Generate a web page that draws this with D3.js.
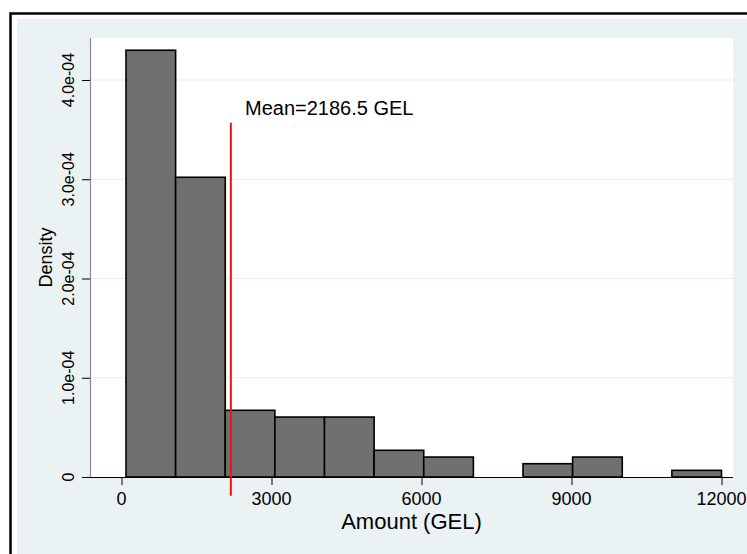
<!DOCTYPE html>
<html>
<head>
<meta charset="utf-8">
<script src="https://cdn.jsdelivr.net/npm/d3@7"></script>
<style>
  html, body { margin: 0; padding: 0; background: #ffffff; }
  svg { display: block; }
  text { font-family: "Liberation Sans", Arial, Helvetica, sans-serif; fill: #000; }
</style>
</head>
<body>
<svg id="chart" width="747" height="554"></svg>
<script>
// Histogram of amounts (GEL): 12 equal-width bins, heights as density
const binStart = 90;
const binWidth = 992.5;
const densities = [4.30e-4, 3.02e-4, 0.672e-4, 0.604e-4, 0.604e-4, 0.269e-4,
                   0.201e-4, 0, 0.134e-4, 0.201e-4, 0, 0.067e-4];

const xTicks = [0, 3000, 6000, 9000, 12000];
const xTickLabels = ["0", "3000", "6000", "9000", "12000"];
const yTicks = [0, 1e-4, 2e-4, 3e-4, 4e-4];
const yTickLabels = ["0", "1.0e-04", "2.0e-04", "3.0e-04", "4.0e-04"];

const meanValue = 2186.5;
const meanLineSpan = [-0.19e-4, 3.57e-4];   // vertical extent of the mean marker, density units
const meanLabel = "Mean=2186.5 GEL";
const xTitle = "Amount (GEL)";
const yTitle = "Density";

const svg = d3.select("#chart");

// outer frame and graph region
svg.append("rect").attr("x", 10.5).attr("y", 13.5).attr("width", 800).attr("height", 600)
  .attr("fill", "#ffffff").attr("stroke", "#000").attr("stroke-width", 2.5);
svg.append("rect").attr("x", 17).attr("y", 19).attr("width", 740).attr("height", 545)
  .attr("fill", "#eaf2f3");

// plot region
const plot = { left: 90, right: 733, top: 38, bottom: 477 };
svg.append("rect").attr("x", plot.left).attr("y", plot.top)
  .attr("width", plot.right - plot.left).attr("height", plot.bottom - plot.top)
  .attr("fill", "#ffffff");

const x = d3.scaleLinear().domain([0, 12000]).range([121.5, 721.5]);
const y = d3.scaleLinear().domain([0, 4e-4]).range([477, 80]);

// horizontal gridlines
svg.append("g").selectAll("line").data(yTicks.filter(d => d > 0)).join("line")
  .attr("x1", plot.left).attr("x2", plot.right)
  .attr("y1", d => y(d)).attr("y2", d => y(d))
  .attr("stroke", "#e6eef1").attr("stroke-width", 1.2);

// bars
const bins = densities.map((d, i) => ({ x0: binStart + i * binWidth, x1: binStart + (i + 1) * binWidth, d }));
svg.append("g").selectAll("rect").data(bins.filter(b => b.d > 0)).join("rect")
  .attr("x", b => x(b.x0)).attr("width", b => x(b.x1) - x(b.x0))
  .attr("y", b => y(b.d)).attr("height", b => y(0) - y(b.d))
  .attr("fill", "#707070").attr("stroke", "#000").attr("stroke-width", 1.6);

// y axis: line and ticks from d3, labels set vertically
const yAxis = d3.axisLeft(y).tickValues(yTicks).tickFormat("")
  .tickSize(8).tickSizeOuter(0);
const gy = svg.append("g").attr("transform", `translate(${plot.left},0)`).call(yAxis);
gy.select(".domain").attr("d", `M0.5,${plot.top}V${plot.bottom}`).attr("stroke", "#8a8a8a").attr("stroke-width", 1.2);
gy.selectAll(".tick line").attr("stroke", "#000").attr("stroke-width", 1);
svg.append("g").selectAll("text").data(yTicks).join("text")
  .attr("transform", d => `translate(73.5,${y(d)}) rotate(-90)`)
  .attr("text-anchor", "middle")
  .attr("font-size", 16)
  .text((d, i) => yTickLabels[i]);

// x axis
const xAxis = d3.axisBottom(x).tickValues(xTicks).tickFormat("")
  .tickSize(8).tickSizeOuter(0);
const gx = svg.append("g").attr("transform", `translate(0,${plot.bottom})`).call(xAxis);
gx.select(".domain").attr("d", `M82,0.5H${plot.right}`).attr("stroke", "#000").attr("stroke-width", 1.2);
gx.selectAll(".tick line").attr("stroke", "#000");
svg.append("g").selectAll("text").data(xTicks).join("text")
  .attr("x", d => x(d)).attr("y", 504.5)
  .attr("text-anchor", "middle")
  .attr("font-size", 18)
  .text((d, i) => xTickLabels[i]);

// mean marker
svg.append("line")
  .attr("x1", x(meanValue)).attr("x2", x(meanValue))
  .attr("y1", y(meanLineSpan[0])).attr("y2", y(meanLineSpan[1]))
  .attr("stroke", "#ee1111").attr("stroke-width", 2);
svg.append("text").attr("x", 245).attr("y", 114.5)
  .attr("font-size", 20).text(meanLabel);

// axis titles
svg.append("text").attr("x", (plot.left + plot.right) / 2).attr("y", 529)
  .attr("text-anchor", "middle").attr("font-size", 22).text(xTitle);
svg.append("text")
  .attr("transform", `translate(52,${(plot.top + plot.bottom) / 2}) rotate(-90)`)
  .attr("text-anchor", "middle").attr("font-size", 18).text(yTitle);
</script>
</body>
</html>
